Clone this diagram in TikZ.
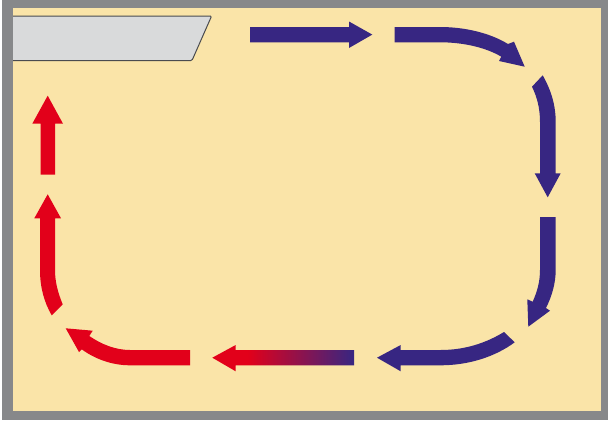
\documentclass[tikz,border=0pt]{standalone}
\definecolor{framegrey}{HTML}{87888A}
\definecolor{paper}{HTML}{FAE4A8}
\definecolor{flowblue}{HTML}{372682}
\definecolor{flowred}{HTML}{E2001A}
\definecolor{boxgrey}{HTML}{D9DADB}
\definecolor{boxline}{HTML}{4A4B4F}
\pgfdeclarehorizontalshading{redblue}{100bp}{
  color(0bp)=(flowred); color(37.5bp)=(flowred); color(75bp)=(flowblue); color(100bp)=(flowblue)}
\tikzset{
  bluearrow/.style={fill=flowblue,draw=none},
  redarrow/.style={fill=flowred,draw=none},
  mixarrow/.style={shading=redblue,draw=none},
}
\begin{document}
\begin{tikzpicture}[x=1pt,y=-1pt]
\useasboundingbox (0,0) rectangle (608,423);
\fill[white] (0,0) rectangle (608,423);
\fill[framegrey] (1.5,0) rectangle (608,420);
\fill[paper] (13,8) rectangle (600.7,411);
% slot
\fill[boxgrey,rounded corners=1.2pt] (13,16) -- (211.6,16) -- (192,60.5) -- (13,60.5) -- cycle;
\draw[boxline,line width=1pt,rounded corners=1.2pt]
  (13,16) -- (211.6,16) -- (192,60.5) -- (13,60.5);
% blue arrows
\path[bluearrow] (250,27) -- (349,27) -- (349,21.5) -- (372.3,34.6) -- (349,48) -- (349,42.3) -- (250,42.3) -- cycle;
\path[bluearrow] (394.7,27) -- (440,27) .. controls (465,27) and (490,33) .. (508,44) -- (514,41.7) -- (524.7,66.7) -- (499,61) -- (501.3,56.7) .. controls (485,47) and (462,42.3) .. (440,42.3) -- (394.7,42.3) -- cycle;
\path[bluearrow] (532,86.7) -- (542.7,75.3) .. controls (551,90) and (555.7,105) .. (555.7,122) -- (555.7,173.3) -- (560.7,173.3) -- (547.7,197.3) -- (534.7,173.3) -- (540,173.3) -- (540,122) .. controls (540,108) and (537,97) .. (532,86.7) -- cycle;
\path[bluearrow] (540,217) -- (555.7,217) -- (555.7,270) .. controls (555.7,283) and (552,296) .. (546,308) -- (550,310.7) -- (528.3,326.7) -- (527.3,299.3) -- (532.7,301.7) .. controls (537,292) and (540,282) .. (540,270) -- cycle;
\path[bluearrow] (504,332) -- (514.7,342.3) .. controls (495,357) and (468,365.3) .. (440.7,365.3) -- (400.7,365.3) -- (400.7,371.3) -- (377,357.7) -- (400.7,345) -- (400.7,350) -- (440.7,350) .. controls (465,350) and (486,343) .. (504,332) -- cycle;
% gradient arrow
\path[mixarrow] (354,350) -- (235.7,350) -- (235.7,345) -- (212.3,357.7) -- (235.7,371.3) -- (235.7,365.3) -- (354,365.3) -- cycle;
% red arrows
\path[redarrow] (190,350) -- (130,350) .. controls (115,350) and (101,344) .. (89.3,336) -- (92.7,330.7) -- (65.7,328.3) -- (79,352) -- (81.7,349.3) .. controls (95,359) and (112,365.3) .. (130,365.3) -- (190,365.3) -- cycle;
\path[redarrow] (51.7,315.3) -- (62.7,304.3) .. controls (58,293) and (55,282) .. (55,270) -- (55,218.3) -- (61,218.3) -- (47.7,194.3) -- (34.3,218.3) -- (40,218.3) -- (40,270) .. controls (40,287) and (44,302) .. (51.7,315.3) -- cycle;
\path[redarrow] (40.7,174.7) -- (55,174.7) -- (55,123.7) -- (63,123.7) -- (47.7,95.7) -- (32.3,123.7) -- (40.7,123.7) -- cycle;
\end{tikzpicture}
\end{document}
